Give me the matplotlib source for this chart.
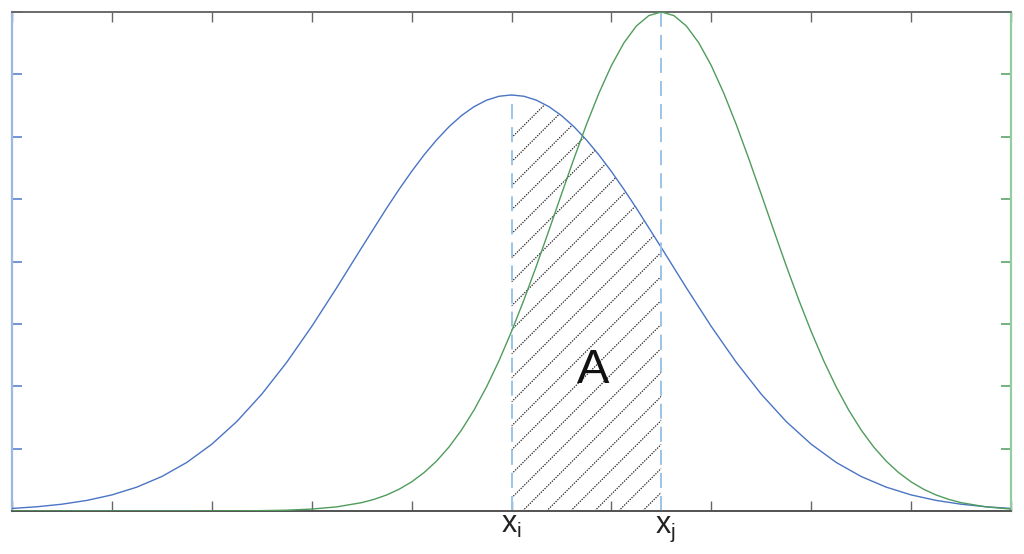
import numpy as np
import matplotlib
matplotlib.use("Agg")
import matplotlib.pyplot as plt
from matplotlib.patches import Polygon

plt.rcParams['mathtext.fontset'] = 'custom'
plt.rcParams['mathtext.rm'] = 'Liberation Sans'
plt.rcParams['mathtext.it'] = 'Liberation Sans'
plt.rcParams['mathtext.bf'] = 'Liberation Sans:bold'
plt.rcParams['font.family'] = ['Liberation Sans', 'DejaVu Sans']

# ---- data ----
blue_x = [0.0, 0.25, 0.5, 0.75, 1.0, 1.25, 1.5, 1.75, 2.0, 2.25, 2.5, 2.75,
          3.0, 3.25, 3.5, 3.75, 3.875, 4.0, 4.125, 4.25, 4.375, 4.5, 4.625,
          4.75, 4.875, 5.0, 5.125, 5.25, 5.375, 5.5, 5.625, 5.75, 5.875, 6.0,
          6.125, 6.25, 6.5, 6.75, 7.0, 7.25, 7.5, 7.75, 8.0, 8.25, 8.5, 8.75,
          9.0, 9.25, 9.5, 9.75, 10.0]
blue_y = [0.041, 0.068, 0.109, 0.170, 0.258, 0.383, 0.553, 0.779, 1.071,
          1.434, 1.873, 2.384, 2.958, 3.579, 4.222, 4.855, 5.157, 5.443, 5.709,
          5.949, 6.161, 6.340, 6.482, 6.586, 6.649, 6.670, 6.649, 6.586, 6.482,
          6.340, 6.161, 5.949, 5.709, 5.443, 5.157, 4.855, 4.222, 3.579, 2.958,
          2.384, 1.873, 1.434, 1.071, 0.779, 0.553, 0.383, 0.258, 0.170, 0.109,
          0.068, 0.041]
green_x = [0.0, 0.25, 0.5, 0.75, 1.0, 1.25, 1.5, 1.75, 2.0, 2.25, 2.5, 2.75,
           3.0, 3.25, 3.5, 3.625, 3.75, 3.875, 4.0, 4.125, 4.25, 4.375, 4.5,
           4.625, 4.75, 4.875, 5.0, 5.125, 5.25, 5.375, 5.5, 5.625, 5.75,
           5.875, 6.0, 6.125, 6.25, 6.375, 6.5, 6.625, 6.75, 6.875, 7.0, 7.125,
           7.25, 7.375, 7.5, 7.625, 7.75, 7.875, 8.0, 8.125, 8.25, 8.375, 8.5,
           8.625, 8.75, 8.875, 9.0, 9.125, 9.25, 9.375, 9.5, 9.75, 10.0]
green_y = [0.0, 0.0, 0.0, 0.0, 0.0, 0.0, 0.0, 0.0, 0.001, 0.002, 0.006, 0.013,
           0.031, 0.066, 0.134, 0.187, 0.257, 0.349, 0.467, 0.616, 0.801,
           1.027, 1.299, 1.619, 1.989, 2.409, 2.877, 3.387, 3.932, 4.500,
           5.078, 5.649, 6.195, 6.698, 7.141, 7.505, 7.776, 7.943, 8.0, 7.943,
           7.776, 7.505, 7.141, 6.698, 6.195, 5.649, 5.078, 4.500, 3.932,
           3.387, 2.877, 2.409, 1.989, 1.619, 1.299, 1.027, 0.801, 0.616,
           0.467, 0.349, 0.257, 0.187, 0.134, 0.066, 0.031]
x_i = 5.0
x_j = 6.5
labels = ['$x_i$', '$x_j$']
area_label = 'A'

# ---- figure ----
fig = plt.figure(figsize=(10.24, 5.54), dpi=100)
ax = fig.add_axes([12/1024, 43/554, 999/1024, 499/554])
ax2 = ax.twinx()

blue = '#4a74c4'
green = '#4f9c5c'
dash_c = '#9cc3e6'

xb = np.array(blue_x)
b = np.array(blue_y)
xg = np.array(green_x)
g = np.array(green_y)

ax.set_xlim(0, 10)
ax.set_ylim(0, 8)
ax2.set_ylim(0, 8)

# hatched region under blue curve between x_i and x_j
mask = (xb >= x_i) & (xb <= x_j)
px = np.concatenate([[x_i], xb[mask], [x_j]])
py = np.concatenate([[0], b[mask], [0]])
poly = Polygon(np.column_stack([px, py]), closed=True, facecolor='none',
               edgecolor='none')
ax.add_patch(poly)
slope = 1.601
for k in range(-8, 16):
    y0 = 0.208 + 0.385 * k
    xx = np.array([x_i, x_j])
    yy = y0 + slope * (xx - x_i)
    ln, = ax.plot(xx, yy, color='#1a1a1a', lw=0.85, linestyle=(0, (1.1, 1.1)),
                  zorder=1)
    ln.set_clip_path(poly)

# dashed vertical lines
lw_d = 1.4
ax.plot([x_i, x_i], [0, b[xb == x_i][0]], color=dash_c, lw=lw_d,
        dashes=(10.8 / lw_d, 5.8 / lw_d), zorder=2)
ax2.plot([x_j, x_j], [0, g[xg == x_j][0]], color=dash_c, lw=lw_d,
         dashes=(10.8 / lw_d, 5.8 / lw_d), zorder=1)

# curves
ax.plot(xb, b, color=blue, lw=1.0, zorder=3)
ax2.plot(xg, g, color=green, lw=1.0, zorder=3)

# ticks / spines
ax.set_xticks(np.arange(0, 11, 1))
ax.set_yticks(np.arange(0, 9, 1))
ax2.set_yticks(np.arange(0, 9, 1))
ax.tick_params(axis='x', direction='in', length=7, width=1.0, colors='#666666',
               top=True, bottom=True, labelbottom=False, labeltop=False)
ax.tick_params(axis='y', direction='in', length=7, width=1.2, colors='#5b83cc',
               left=True, right=False, labelleft=False)
ax2.tick_params(axis='y', direction='in', length=7, width=1.2, colors='#5aa56a',
                right=True, left=False, labelright=False)
ax2.tick_params(axis='x', bottom=False, top=False)

for a in (ax, ax2):
    a.spines['top'].set_color('#666666')
    a.spines['bottom'].set_color('#555555')
    a.spines['top'].set_linewidth(1.1)
    a.spines['bottom'].set_linewidth(1.3)
    a.spines['left'].set_color('#9ab8e0')
    a.spines['left'].set_linewidth(1.6)
    a.spines['right'].set_color('#94cc9f')
    a.spines['right'].set_linewidth(1.6)
ax2.spines['left'].set_visible(False)
ax.spines['right'].set_visible(False)

# labels
trans = ax.get_xaxis_transform()
ax.text(x_i, -0.0441, labels[0], transform=trans, ha='center',
        va='baseline', fontsize=22, color='#222222')
ax.text(x_j + 0.04, -0.0441, labels[1], transform=trans, ha='center',
        va='baseline', fontsize=22, color='#222222')
ax.text(5.816, 2.051, area_label, ha='center', va='baseline', fontsize=35,
        color='#111111', zorder=5)

fig.savefig('out.png', dpi=100)
